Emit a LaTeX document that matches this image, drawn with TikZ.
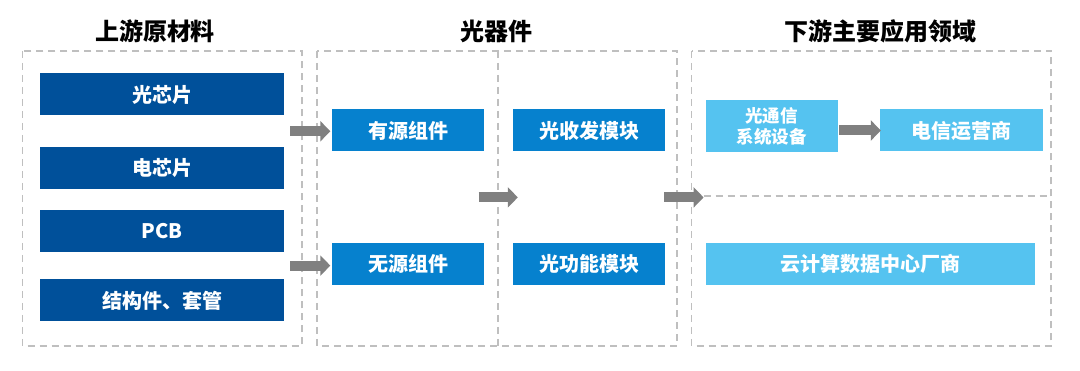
\documentclass[tikz,border=0pt]{standalone}
\usepackage{fontspec}
\setmainfont{Noto Sans CJK SC}
\usetikzlibrary{arrows.meta,calc}
\definecolor{dkblue}{HTML}{00509A}
\definecolor{mdblue}{HTML}{0681CE}
\definecolor{ltblue}{HTML}{55C3F0}
\definecolor{arrgray}{HTML}{808080}
\definecolor{dashgray}{HTML}{BFBFBF}
\begin{document}
\begin{tikzpicture}[x=1pt,y=-1pt,
  boxbase/.style={text=white, inner sep=0pt, align=center, anchor=center,
    font=\bfseries\fontsize{20}{22}\selectfont, minimum height=42pt},
  dkbox/.style={boxbase, fill=dkblue, minimum width=244pt},
  mdbox/.style={boxbase, fill=mdblue, minimum width=152pt},
  ltbox/.style={boxbase, fill=ltblue},
  title/.style={font=\bfseries\fontsize{24}{26}\selectfont, text=black, inner sep=0pt},
  frame/.style={draw=dashgray, line width=1.2pt, dash pattern=on 7pt off 5pt},
  blockarrow/.style={draw=arrgray, line width=10pt,
    -{Triangle[length=10pt 0, width=20pt 0]}},
]
\useasboundingbox (0,0) rectangle (1080,371);

% titles
\node[title] (t1) at (155,31) {上游原材料};
\node[title] (t2) at (496,31) {光器件};
\node[title] (t3) at (880,31) {下游主要应用领域};

% frames
\draw[frame] (22.7,51) rectangle (302,346);
\draw[frame] (317,51) rectangle (677,346);
\draw[frame] (498,51) -- (498,346);
\draw[frame] (691.5,51) rectangle (1051,346);
\draw[frame] (691.5,196) -- (1051,196);

% upstream
\node[dkbox] (gxp) at (162,94.5) {光芯片};
\node[dkbox] (dxp) at (162,168) {电芯片};
\node[dkbox] (pcb) at (162,230.7) {PCB};
\node[dkbox] (jgj) at (162,300.5) {结构件、套管};

% devices
\node[mdbox] (ys) at (408,130.5) {有源组件};
\node[mdbox] (ws) at (408,264.3) {无源组件};
\node[mdbox] (gsf) at (589,130.5) {光收发模块};
\node[mdbox] (ggn) at (589,264.3) {光功能模块};

% downstream
\node[ltbox, minimum width=132pt, minimum height=52pt,
  font=\bfseries\fontsize{17.5}{21}\selectfont] (txsb) at (771.5,126.5) {光通信\\系统设备};
\node[ltbox, minimum width=163pt] (dx) at (961.5,130.5) {电信运营商};
\node[ltbox, minimum width=329pt] (yun) at (870.3,264.3) {云计算数据中心厂商};

% group coordinates
\coordinate (g1) at ($(gxp.east)!0.5!(dxp.east)$);
\coordinate (g2) at ($(pcb.east)!0.5!(jgj.east)$);
\coordinate (m1) at ($(ys.east)!0.5!(ws.east)$);
\coordinate (m2) at ($(gsf.west)!0.5!(ggn.west)$);
\coordinate (m3) at ($(gsf.east)!0.5!(ggn.east)$);
\coordinate (m4) at (m3 -| yun.west);

% arrows
\draw[blockarrow, shorten >=1.5pt] ([xshift=6pt]g1) -- (g1 -| ys.west);
\draw[blockarrow, shorten >=1.5pt] ([xshift=6pt]g2) -- (g2 -| ws.west);
\draw[blockarrow] ([xshift=-5.5pt]m1) -- ([xshift=5pt]m2);
\draw[blockarrow] ([xshift=-1pt]m3) -- ([xshift=-2pt]m4);
\draw[blockarrow] ([xshift=1.5pt]txsb.east |- dx.west) -- ([xshift=1pt]dx.west);
\end{tikzpicture}
\end{document}
